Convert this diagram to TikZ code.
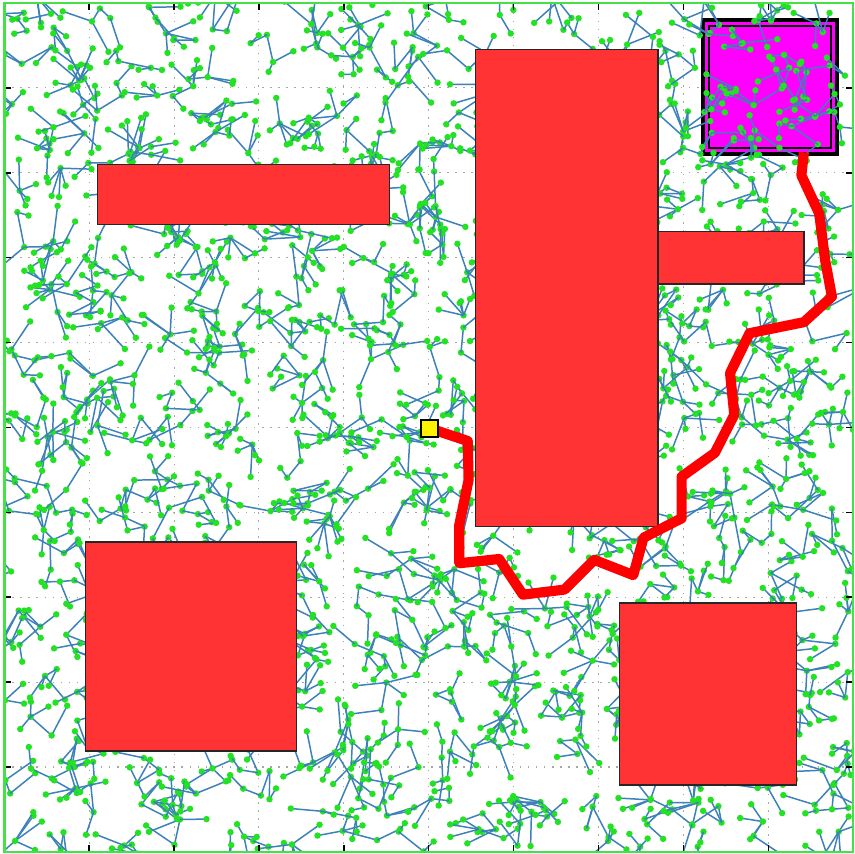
\documentclass[tikz,border=0pt]{standalone}
\usepackage{tikz}

\definecolor{obst}{RGB}{255,51,51}
\definecolor{goalpink}{RGB}{255,0,255}
\definecolor{edgeblue}{RGB}{60,130,185}
\definecolor{vertgreen}{RGB}{35,225,35}
\definecolor{framegreen}{RGB}{70,225,70}

\begin{document}
\begin{tikzpicture}[
  obstacle/.style={draw=black!85, line width=0.5pt, fill=obst},
  goalbox/.style={fill=goalpink, draw=black, line width=1.1pt},
  edge/.style={draw=edgeblue, line width=0.5pt},
  vert/.style={fill=vertgreen},
  gridline/.style={draw=gray!70, line width=0.35pt, dash pattern=on 0.5pt off 2.2pt},
  tick/.style={draw=black, line width=0.5pt},
  route/.style={draw=red, line width=3.4pt, line join=round},
  startbox/.style={draw=black, fill=yellow, line width=0.6pt, minimum size=0.2cm, inner sep=0pt}
]
\useasboundingbox (-0.05,-0.025) rectangle (10.01,10.035);
\fill[white] (-0.05,-0.025) rectangle (10.01,10.035);

\foreach \t in {1,...,9}{
  \draw[gridline] (\t,0) -- (\t,10);
  \draw[gridline] (0,\t) -- (10,\t);
}

\draw[goalbox] (8.23,8.22) rectangle (9.81,9.80);
\draw[goalpink, line width=0.35pt] (8.27,8.26) rectangle (9.77,9.76);
\draw[black, line width=0.5pt] (8.30,8.29) rectangle (9.74,9.73);
\fill[goalpink] (8.32,8.31) rectangle (9.72,9.71);

\pgfmathsetseed{2718}
\begin{scope}
\clip (0,0) rectangle (10,10);
\foreach \a in {0,...,21}{
  \foreach \b in {0,...,21}{
    \pgfmathsetmacro\bx{(\a+rnd)*10/22}
    \pgfmathsetmacro\by{(\b+rnd)*10/22}
    \xdef\px{\bx}\xdef\py{\by}
    \foreach \j in {1,...,5}{
      \pgfmathsetmacro\ang{360*rnd}
      \pgfmathsetmacro\len{0.12+0.3*rnd}
      \pgfmathsetmacro\nx{\px+\len*cos(\ang)}
      \pgfmathsetmacro\ny{\py+\len*sin(\ang)}
      \draw[edge] (\px,\py) -- (\nx,\ny);
      \fill[vert] (\nx,\ny) circle (0.038);
      \pgfmathtruncatemacro\go{rnd<0.5 ? 1 : 0}
      \ifnum\go=1 \xdef\px{\nx}\xdef\py{\ny}\fi
    }
    \fill[vert] (\bx,\by) circle (0.038);
  }
}
\end{scope}

\draw[obstacle] (1.10,7.39) rectangle (4.54,8.10);
\draw[obstacle] (5.55,3.83) rectangle (7.70,9.45);
\draw[obstacle] (7.70,6.69) rectangle (9.42,7.31);
\draw[obstacle] (0.96,1.19) rectangle (3.44,3.65);
\draw[obstacle] (7.25,0.79) rectangle (9.33,2.93);

\coordinate (startpt) at (5.01,4.99);
\coordinate (goalpt) at (9.42,8.24);
\draw[route] (startpt) -- (5.46,4.84) -- (5.47,4.38) -- (5.36,3.85) -- (5.36,3.40)
  -- (5.83,3.45) -- (6.11,3.03) -- (6.60,3.09) -- (6.95,3.44) -- (7.41,3.26)
  -- (7.53,3.70) -- (7.98,3.93) -- (7.98,4.42) -- (8.37,4.70) -- (8.60,5.15)
  -- (8.55,5.64) -- (8.78,6.11) -- (9.42,6.24) -- (9.75,6.54) -- (9.67,6.97)
  -- (9.60,7.52) -- (9.39,7.97) -- (goalpt);
\node[startbox] (start) at (startpt) {};

\foreach \t in {1,...,9}{
  \draw[tick] (\t,0) -- ++(0,0.08);
  \draw[tick] (\t,10) -- ++(0,-0.08);
  \draw[tick] (0,\t) -- ++(0.08,0);
  \draw[tick] (10,\t) -- ++(-0.08,0);
}
\draw[framegreen, line width=0.9pt] (0,0) rectangle (10,10);
\end{tikzpicture}
\end{document}
